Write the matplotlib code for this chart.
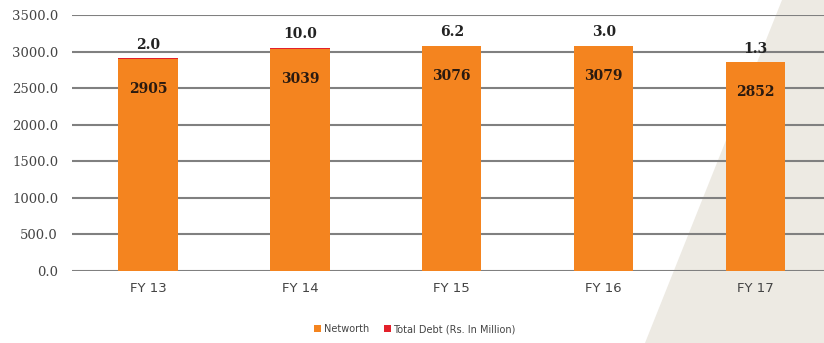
import matplotlib.pyplot as plt
from matplotlib.patches import Polygon

years = ['FY 13', 'FY 14', 'FY 15', 'FY 16', 'FY 17']
networth = [2905, 3039, 3076, 3079, 2852]
total_debt = [2.0, 10.0, 6.2, 3.0, 1.3]

orange = '#F4841F'
red = '#E3202A'

fig = plt.figure(figsize=(8.24, 3.43), dpi=100)
fig.patch.set_facecolor('white')

# beige diagonal background on the right
fig.patches.append(Polygon([(782 / 824, 1.0), (1.0, 1.0), (1.0, 0.0), (645 / 824, 0.0)],
                           closed=True, transform=fig.transFigure,
                           facecolor='#EDEAE3', edgecolor='none', zorder=0))

ax = fig.add_axes([72 / 824, 1 - 271 / 343, 1 - 72 / 824, 256 / 343])
ax.set_facecolor('none')
ax.set_zorder(1)

x = range(len(years))
ax.bar(x, networth, width=0.39, color=orange, zorder=3, label='Networth')
ax.bar(x, total_debt, width=0.39, bottom=networth, color=red, zorder=3,
       label='Total Debt (Rs. In Million)')

for i in x:
    ax.text(i, networth[i] - 410, f'{networth[i]}', ha='center', va='center',
            fontsize=10, fontweight='bold', family='DejaVu Serif', color='#2a1a10', zorder=4)
    ax.text(i, networth[i] + total_debt[i] + 90, f'{total_debt[i]:.1f}', ha='center',
            va='bottom', fontsize=10, fontweight='bold', family='DejaVu Serif',
            color='#222222', zorder=4)

ax.set_ylim(0, 3500)
ax.set_xlim(-0.5, 4.45)
ax.set_yticks(range(0, 3501, 500))
ax.set_yticklabels([f'{v:.1f}' for v in range(0, 3501, 500)], family='DejaVu Serif',
                   fontsize=9.5, color='#444444')
ax.set_xticks(list(x))
ax.set_xticklabels(years, fontsize=9.5, color='#444444')
ax.yaxis.grid(True, color='#808080', linewidth=1.5, zorder=1)
ax.tick_params(length=0, pad=8)
ax.tick_params(axis='y', pad=10)
for s in ax.spines.values():
    s.set_visible(False)

fig.legend(loc='lower center', bbox_to_anchor=(415 / 824, 0.0), ncol=2, frameon=False,
           fontsize=7, handlelength=0.7, handleheight=0.7, handletextpad=0.3,
           columnspacing=1.5, labelcolor='#444444')

fig.savefig('out.png', dpi=100)
